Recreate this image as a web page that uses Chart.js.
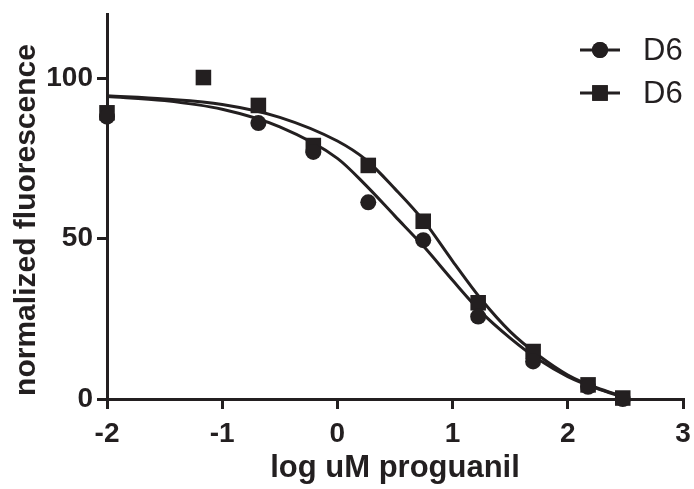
<!DOCTYPE html>
<html>
<head>
<meta charset="utf-8">
<script src="https://cdn.jsdelivr.net/npm/chart.js@4.4.1/dist/chart.umd.min.js"></script>
<style>
  html, body { margin: 0; padding: 0; background: #fff; }
  #wrap { width: 694px; height: 489px; }
</style>
</head>
<body>
<div id="wrap"><canvas id="chart"></canvas></div>
<script>
'use strict';

// log dose (uM), zero-drug well plotted at -2
const logDose = [-2, -1.163, -0.686, -0.209, 0.268, 0.745, 1.222, 1.699, 2.176, 2.477];
const circleVals = [88, null, 86, 77, 61.3, 49.5, 25.7, 11.7, 3.8, 0];
const squareVals = [89.2, 100.2, 91.5, 79, 72.8, 55.4, 30, 14.8, 4.4, 0.3];

// fitted dose-response curves
const fitX = [-2, -1.5, -1, -0.5, 0, 0.25, 0.5, 0.75, 1, 1.25, 1.5, 1.75, 2, 2.25, 2.48];
const fitCircle = [94.3, 93, 90.3, 84.8, 75, 66.5, 57, 47.5, 37, 27, 19, 12.2, 7, 3.3, 0.6];
const fitSquare = [94.5, 93.5, 91.8, 87.8, 80.4, 74.5, 65.5, 55.5, 43, 31, 21, 13.5, 7.5, 3.5, 0.8];

const xTicks = [-2, -1, 0, 1, 2, 3];
const yTicks = [0, 50, 100];
const seriesNames = ['D6', 'D6'];
const yTitle = 'normalized fluorescence';
const xTitle = 'log uM proguanil';

const INK = '#231f20';
const FONT = "'Liberation Sans', Arial, sans-serif";

const pts = (xs, ys) => xs.map((x, i) => ({ x, y: ys[i] })).filter(p => p.y !== null);

// legend (short line + marker + label) and the rotated y title
const extras = {
  id: 'extras',
  afterDraw(chart) {
    const ctx = chart.ctx;
    const items = [
      { style: 'circle', r: 8 },
      { style: 'rect', r: 11 }
    ];
    ctx.save();
    items.forEach((it, i) => {
      const y = 50 + i * 43;
      ctx.strokeStyle = INK;
      ctx.lineWidth = 3;
      ctx.beginPath();
      ctx.moveTo(580, y);
      ctx.lineTo(620, y);
      ctx.stroke();
      ctx.fillStyle = INK;
      Chart.helpers.drawPoint(ctx, { pointStyle: it.style, radius: it.r, borderWidth: 0 }, 600, y);
      ctx.fill();
      ctx.font = `31px ${FONT}`;
      ctx.textBaseline = 'middle';
      ctx.textAlign = 'left';
      ctx.fillText(seriesNames[i], 643, y + 1);
    });

    ctx.translate(27, 220);
    ctx.rotate(-Math.PI / 2);
    ctx.font = `bold 30px ${FONT}`;
    ctx.textAlign = 'center';
    ctx.textBaseline = 'middle';
    ctx.fillStyle = INK;
    ctx.fillText(yTitle, 0, 0);
    ctx.restore();
  }
};

new Chart(document.getElementById('chart'), {
  type: 'scatter',
  data: {
    datasets: [
      {
        label: seriesNames[0],
        data: pts(logDose, circleVals),
        pointStyle: 'circle',
        pointRadius: 8,
        backgroundColor: INK,
        borderWidth: 0,
        clip: false
      },
      {
        label: seriesNames[1],
        data: pts(logDose, squareVals),
        pointStyle: 'rect',
        pointRadius: 11,
        backgroundColor: INK,
        borderWidth: 0,
        clip: false
      },
      {
        data: pts(fitX, fitCircle),
        showLine: true,
        pointRadius: 0,
        borderColor: INK,
        borderWidth: 3,
        cubicInterpolationMode: 'monotone',
        clip: false
      },
      {
        data: pts(fitX, fitSquare),
        showLine: true,
        pointRadius: 0,
        borderColor: INK,
        borderWidth: 3,
        cubicInterpolationMode: 'monotone',
        clip: false
      }
    ]
  },
  options: {
    responsive: true,
    maintainAspectRatio: false,
    animation: false,
    layout: { padding: { top: 14, right: 11, left: 0, bottom: 0 } },
    plugins: { legend: { display: false }, tooltip: { enabled: false } },
    scales: {
      x: {
        type: 'linear',
        min: -2,
        max: 3,
        afterBuildTicks: s => { s.ticks = xTicks.map(v => ({ value: v })); },
        afterFit: s => { s.height = 90; s.paddingLeft = 0; s.paddingRight = 0; },
        border: { color: INK, width: 3 },
        grid: { drawOnChartArea: false, color: INK, lineWidth: 3, tickLength: 10 },
        ticks: { color: INK, font: { family: FONT, size: 28, weight: 'bold' }, padding: 8, maxRotation: 0 },
        title: {
          display: true,
          text: xTitle,
          color: INK,
          font: { family: FONT, size: 31, weight: 'bold' },
          padding: { top: 0, bottom: 2 }
        }
      },
      y: {
        type: 'linear',
        min: 0,
        max: 120,
        afterBuildTicks: s => { s.ticks = yTicks.map(v => ({ value: v })); },
        afterFit: s => { s.width = 107; s.paddingTop = 0; s.paddingBottom = 0; },
        border: { color: INK, width: 3 },
        grid: { drawOnChartArea: false, color: INK, lineWidth: 3, tickLength: 10 },
        ticks: { color: INK, font: { family: FONT, size: 28, weight: 'bold' }, padding: 4 }
      }
    }
  },
  plugins: [extras]
});
</script>
</body>
</html>
